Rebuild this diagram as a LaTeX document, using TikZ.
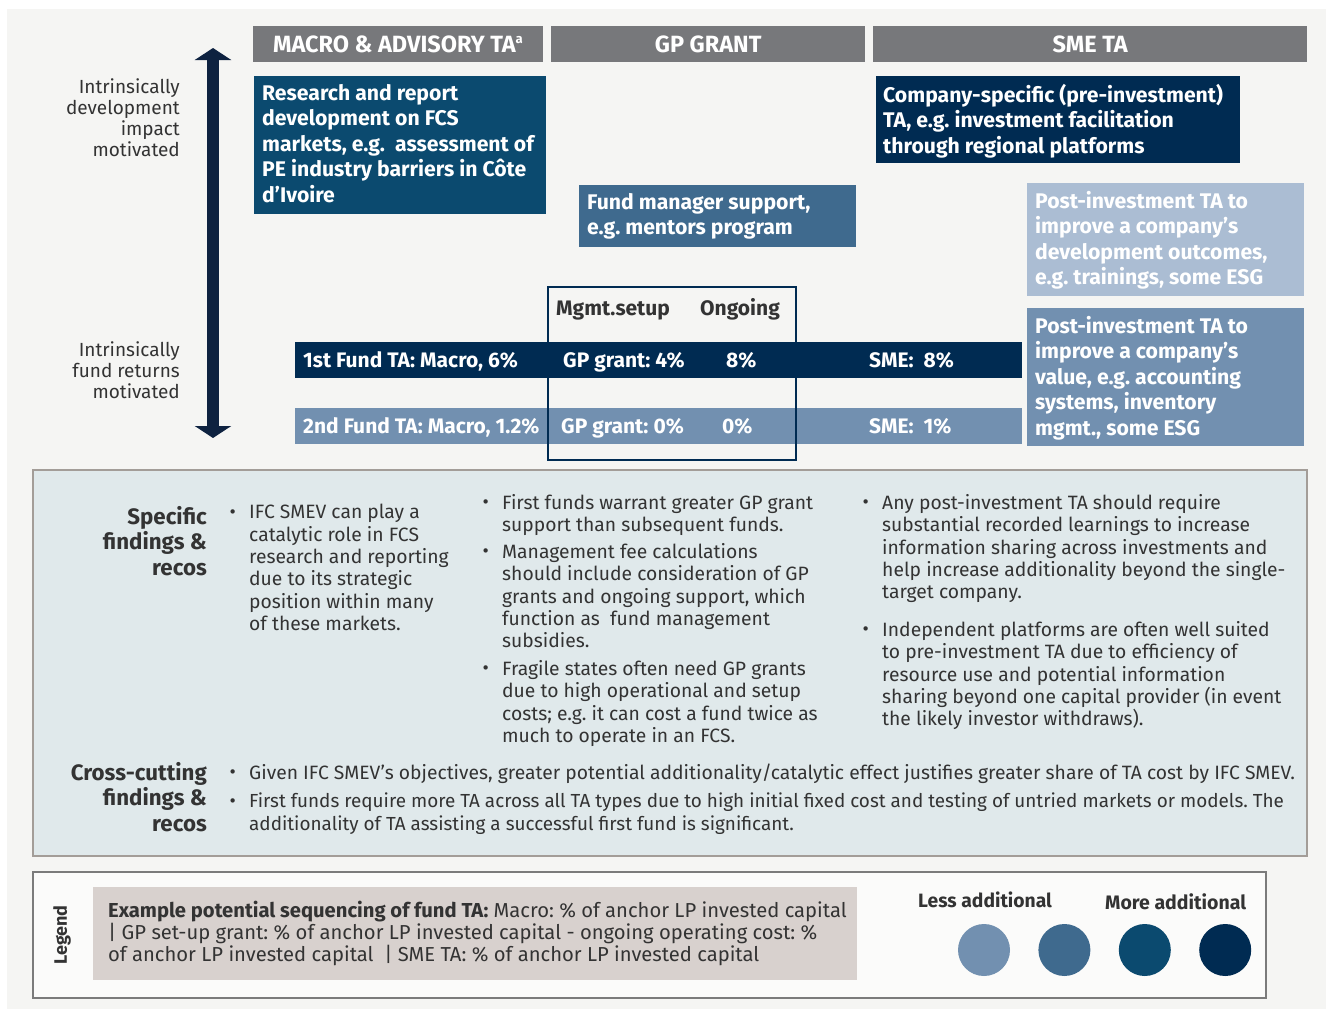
\documentclass[tikz,border=0pt]{standalone}
\usepackage{fontspec}
\setmainfont{Fira Sans}
\usetikzlibrary{positioning,arrows.meta}
\frenchspacing

\definecolor{pagebg}{HTML}{F5F5F3}
\definecolor{hdrgray}{HTML}{77787B}
\definecolor{navy}{HTML}{002B52}
\definecolor{petrol}{HTML}{0B4A6F}
\definecolor{steel}{HTML}{3F6A8E}
\definecolor{slate}{HTML}{7290B0}
\definecolor{mist}{HTML}{ABBDD3}
\definecolor{arrowblue}{HTML}{0E2240}
\definecolor{panel}{HTML}{E0E9EB}
\definecolor{panelline}{HTML}{A39D98}
\definecolor{legfill}{HTML}{D8D1CE}
\definecolor{legline}{HTML}{7B7B7B}
\definecolor{ink}{HTML}{333333}

\begin{document}
\begin{tikzpicture}[x=1pt,y=-1pt,
  hdr/.style={fill=hdrgray,text=white,anchor=north west,minimum height=36pt,inner sep=0pt,
    font=\bfseries\fontsize{23.5}{26}\selectfont},
  card/.style={anchor=north west,inner sep=0pt},
  cardtxt/.style={anchor=north west,align=left,text=white,inner sep=0pt,
    font=\bfseries\fontsize{21.2}{25.5}\selectfont},
  bar/.style={anchor=north west,minimum width=727pt,minimum height=36pt,inner sep=0pt},
  bartxt/.style={anchor=base west,text=white,inner sep=0pt,
    font=\bfseries\fontsize{21}{24}\selectfont},
  side/.style={anchor=north east,align=right,text=ink,inner sep=0pt,
    font=\fontsize{19}{21}\selectfont},
  head/.style={anchor=north east,align=right,text=ink,inner sep=0pt,
    font=\bfseries\fontsize{22.3}{25.5}\selectfont},
  finding/.style={anchor=north west,align=left,text=ink,inner sep=0pt,
    font=\fontsize{19.3}{22.4}\selectfont},
  bullet/.style={anchor=north east,xshift=-13pt,inner sep=0pt,text=ink,
    font=\fontsize{19.3}{22.4}\selectfont},
  dot/.style={circle,minimum size=52pt,inner sep=0pt},
  ]
  \useasboundingbox (0,0) rectangle (1326,1009);
  \fill[white] (0,0) rectangle (1326,1009);
  \fill[pagebg] (7,9) rectangle (1326,1009);

  % column headers
  \node[hdr,minimum width=290pt] (macro) at (253,26) {MACRO \& ADVISORY TA\textsuperscript{\fontsize{13}{13}\selectfont a}};
  \node[hdr,minimum width=314pt] (gp) at (551,26) {GP GRANT};
  \node[hdr,minimum width=434pt] (sme) at (873,26) {SME TA};

  % vertical scale
  \coordinate (up) at (213,48);
  \coordinate (down) at (213,438);
  \draw[arrowblue,line width=12pt,{Triangle[width=36pt,length=12pt]}-{Triangle[width=36pt,length=12pt]}] (up) -- (down);
  \node[side] (devlabel) at (180,78) {Intrinsically\\development\\impact\\motivated};
  \node[side] (retlabel) at (180,341) {Intrinsically\\fund returns\\motivated};

  % TA types
  \node[card,fill=petrol,minimum width=292pt,minimum height=138pt] (research) at (254,76) {};
  \node[cardtxt] (researchtxt) at ([shift={(8pt,-8pt)}]research.north west)
    {Research and report\\development on FCS\\markets, e.g.\ \ assessment of\\PE industry barriers in Côte\\d’Ivoire};
  \node[card,fill=navy,minimum width=364pt,minimum height=87pt] (company) at (876,76) {};
  \node[cardtxt] (companytxt) at ([shift={(7pt,-8pt)}]company.north west)
    {Company-specific (pre-investment)\\TA, e.g. investment facilitation\\through regional platforms};
  \node[card,fill=steel,minimum width=277pt,minimum height=62pt] (mentor) at (579,185) {};
  \node[cardtxt] (mentortxt) at ([shift={(8pt,-8pt)}]mentor.north west)
    {Fund manager support,\\e.g. mentors program};
  \node[card,fill=mist,minimum width=277pt,minimum height=113pt] (postdev) at (1027,183) {};
  \node[cardtxt] (postdevtxt) at ([shift={(8pt,-8pt)}]postdev.north west)
    {Post-investment TA to\\improve a company’s\\development outcomes,\\e.g. trainings, some ESG};
  \node[card,fill=slate,minimum width=277pt,minimum height=138pt] (postval) at (1027,308) {};
  \node[cardtxt] (postvaltxt) at ([shift={(8pt,-8pt)}]postval.north west)
    {Post-investment TA to\\improve a company’s\\value, e.g. accounting\\systems, inventory\\mgmt., some ESG};

  % fund sequencing bars
  \node[bar,fill=navy] (first) at (295,342) {};
  \node[bar,fill=slate] (second) at (295,408) {};
  \node[bartxt] (f1) at (303,367) {1st Fund TA: Macro, 6\%};
  \node[bartxt] (f2) at (563,367) {GP grant: 4\%};
  \node[bartxt] (f3) at (726,367) {8\%};
  \node[bartxt] (f4) at (869,367) {SME:\ \ 8\%};
  \node[bartxt] (s1) at (303,433) {2nd Fund TA: Macro, 1.2\%};
  \node[bartxt] (s2) at (561,433) {GP grant: 0\%};
  \node[bartxt] (s3) at (722,433) {0\%};
  \node[bartxt] (s4) at (869,433) {SME:\ \ 1\%};
  \node[draw=navy,line width=1.8pt,anchor=north west,minimum width=248pt,minimum height=173pt,inner sep=0pt] (gpbox) at (547,286) {};
  \node[bartxt,text=ink] (setup) at (556,315) {Mgmt.setup};
  \node[bartxt,text=ink] (ongoing) at (700,315) {Ongoing};

  % findings panel
  \draw[fill=panel,draw=panelline,line width=2pt] (33,470) rectangle (1307,856);
  \node[head] (spec) at (207,506) {Specific\\findings \&\\recos};
  \node[finding] (c1a) at (249,504) {IFC SMEV can play a\\catalytic role in FCS\\research and reporting\\due to its strategic\\position within many\\of these markets.};
  \node[bullet] (b1a) at (c1a.north west) {\vphantom{fl}•};
  \node[finding] (c2a) at (502,494) {First funds warrant greater GP grant\\support than subsequent funds.};
  \node[bullet] (b2a) at (c2a.north west) {\vphantom{fl}•};
  \node[finding] (c2b) at (502,543) {Management fee calculations\\should include consideration of GP\\grants and ongoing support, which\\function as\ \ fund management\\subsidies.};
  \node[bullet] (b2b) at (c2b.north west) {\vphantom{fl}•};
  \node[finding] (c2c) at (502,660) {Fragile states often need GP grants\\due to high operational and setup\\costs; e.g. it can cost a fund twice as\\much to operate in an FCS.};
  \node[bullet] (b2c) at (c2c.north west) {\vphantom{fl}•};
  \node[finding] (c3a) at (882,494) {Any post-investment TA should require\\substantial recorded learnings to increase\\information sharing across investments and\\help increase additionality beyond the single-\\target company.};
  \node[bullet] (b3a) at (c3a.north west) {\vphantom{fl}•};
  \node[finding] (c3b) at (882,621) {Independent platforms are often well suited\\to pre-investment TA due to efficiency of\\resource use and potential information\\sharing beyond one capital provider (in event\\the likely investor withdraws).};
  \node[bullet] (b3b) at (c3b.north west) {\vphantom{fl}•};

  \node[head] (cross) at (207,762) {Cross-cutting\\findings \&\\recos};
  \node[finding] (xa) at (249,764) {Given IFC SMEV’s objectives, greater potential additionality/catalytic effect justifies greater share of TA cost by IFC SMEV.};
  \node[bullet] (bxa) at (xa.north west) {\vphantom{fl}•};
  \node[finding,font=\fontsize{18.9}{22.4}\selectfont] (xb) at (249,793) {First funds require more TA across all TA types due to high initial fixed cost and testing of untried markets or models. The\\additionality of TA assisting a successful first fund is significant.};
  \node[bullet] (bxb) at (xb.north west) {\vphantom{fl}•};

  % legend
  \draw[fill=white!60!pagebg,draw=legline,line width=1.5pt] (33,872) rectangle (1266,998);
  \node[rotate=90,text=ink,font=\bfseries\fontsize{18}{20}\selectfont] (legend) at (62,935) {Legend};
  \fill[legfill] (93,887) rectangle (857,980);
  \node[finding,font=\fontsize{20.2}{22}\selectfont] (legtxt) at (108,901)
    {\textbf{Example potential sequencing of fund TA:} Macro: \% of anchor LP invested capital\\| GP set-up grant: \% of anchor LP invested capital - ongoing operating cost: \%\\of anchor LP invested capital\ \ | SME TA: \% of anchor LP invested capital};
  \node[bartxt,text=ink,font=\bfseries\fontsize{19.3}{22}\selectfont] (less) at (918,907) {Less additional};
  \node[bartxt,text=ink,font=\bfseries\fontsize{19.5}{22}\selectfont] (more) at (1105,909) {More additional};
  \node[dot,fill=slate] (d1) at (984,950) {};
  \node[dot,fill=steel,right=28pt of d1] (d2) {};
  \node[dot,fill=petrol,right=28pt of d2] (d3) {};
  \node[dot,fill=navy,right=28pt of d3] (d4) {};
\end{tikzpicture}
\end{document}
